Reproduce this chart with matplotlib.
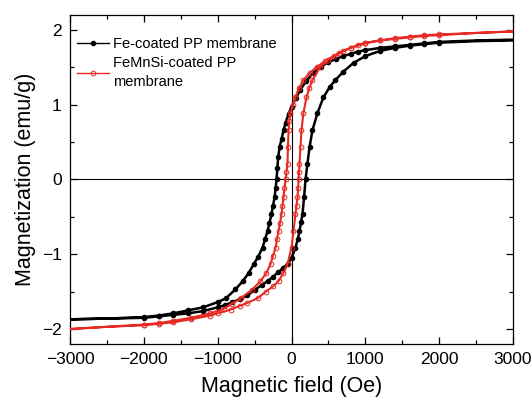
import matplotlib
matplotlib.use("Agg")
import matplotlib.pyplot as plt
from matplotlib.ticker import MultipleLocator
import numpy as np

plt.rcParams['font.family'] = ['Liberation Sans', 'DejaVu Sans']

# Fe-coated PP membrane: descending branch (+3000 -> -3000) then ascending branch
fe_desc_H = [3000, 2500, 2000, 1800, 1600, 1400, 1200, 1000, 900, 800, 700, 600,
             500, 400, 300, 200, 120, 60, 0, -40, -80, -108, -135, -162, -180,
             -192, -203, -215, -230, -250, -271, -298, -325, -358, -392, -450,
             -510, -580, -660, -760, -890, -1000, -1200, -1400, -1600, -1800,
             -2000, -2500, -3000]
fe_desc_M = [1.87, 1.86, 1.84, 1.82, 1.80, 1.78, 1.76, 1.73, 1.71, 1.68, 1.65, 1.61,
             1.57, 1.51, 1.43, 1.32, 1.20, 1.09, 0.97, 0.88, 0.76, 0.66, 0.54, 0.43, 0.30,
             0.15, 0.0, -0.12, -0.24, -0.35, -0.46, -0.58, -0.69, -0.80, -0.91, -1.03,
             -1.13, -1.25, -1.36, -1.47, -1.59, -1.64, -1.71, -1.75, -1.79, -1.82,
             -1.84, -1.86, -1.87]
fe_asc_H = [-3000, -2500, -2000, -1800, -1600, -1400, -1200, -1000, -900, -800,
            -700, -600, -500, -400, -325, -250, -180, -120, -54, 0, 54, 85, 108,
            130, 149, 170, 190, 216, 244, 284, 352, 433, 520, 595, 700, 840, 1000,
            1200, 1400, 1600, 1800, 2000, 2500, 3000]
fe_asc_M = [-1.87, -1.86, -1.85, -1.83, -1.81, -1.79, -1.76, -1.71, -1.68, -1.64,
            -1.60, -1.55, -1.48, -1.41, -1.36, -1.30, -1.24, -1.19, -1.13, -1.05,
            -0.91, -0.80, -0.69, -0.57, -0.46, -0.24, 0.0, 0.21, 0.43, 0.66, 0.89,
            1.10, 1.24, 1.33, 1.44, 1.56, 1.65, 1.72, 1.76, 1.79, 1.81, 1.83, 1.85, 1.86]

# FeMnSi-coated PP membrane
femnsi_desc_H = [3000, 2500, 2000, 1800, 1600, 1400, 1200, 1000, 900, 800, 700,
                 570, 450, 350, 250, 162, 100, 54, 20, -14, -30, -40, -48, -54,
                 -68, -81, -95, -108, -122, -135, -155, -176, -196, -216, -250,
                 -284, -340, -420, -540, -690, -800, -920, -1100, -1367, -1600,
                 -1800, -2000, -2500, -3000]
femnsi_desc_M = [1.98, 1.96, 1.94, 1.93, 1.91, 1.89, 1.86, 1.83, 1.80, 1.76, 1.72,
                 1.65, 1.58, 1.51, 1.43, 1.33, 1.22, 1.10, 1.00, 0.89, 0.78, 0.66,
                 0.44, 0.21, 0.10, 0.0, -0.12, -0.24, -0.35, -0.46, -0.58, -0.69,
                 -0.80, -0.91, -1.02, -1.13, -1.25, -1.36, -1.48, -1.59, -1.66,
                 -1.73, -1.79, -1.85, -1.89, -1.92, -1.94, -1.97, -2.00]
femnsi_asc_H = [-3000, -2500, -2000, -1800, -1600, -1367, -1100, -1000, -825,
                -700, -600, -460, -350, -250, -176, -110, -54, 0, 27, 54, 68, 81,
                90, 95, 102, 108, 122, 135, 162, 203, 240, 284, 392, 500, 650, 800,
                1000, 1200, 1400, 1600, 1800, 2000, 2500, 3000]
femnsi_asc_M = [-2.00, -1.97, -1.95, -1.93, -1.91, -1.87, -1.82, -1.79, -1.74,
                -1.69, -1.65, -1.59, -1.50, -1.43, -1.36, -1.25, -1.13, -0.91,
                -0.69, -0.46, -0.35, -0.24, -0.12, 0.0, 0.10, 0.21, 0.44, 0.66,
                0.89, 1.10, 1.22, 1.33, 1.51, 1.60, 1.69, 1.76, 1.82, 1.86, 1.88,
                1.90, 1.92, 1.93, 1.96, 1.98]

fe_H = np.array(fe_desc_H + fe_asc_H)
fe_M = np.array(fe_desc_M + fe_asc_M)
femnsi_H = np.array(femnsi_desc_H + femnsi_asc_H)
femnsi_M = np.array(femnsi_desc_M + femnsi_asc_M)

fig = plt.figure(figsize=(5.32, 4.03), dpi=100)
ax = fig.add_axes([70 / 532, 1 - 344 / 403, (513 - 70) / 532, (344 - 15) / 403])

ax.axhline(0, color='black', lw=0.8, zorder=1)
ax.axvline(0, color='black', lw=0.8, zorder=1)

red = '#e62a24'
ax.plot(fe_H, fe_M, '-', color='black', lw=1.8, marker='o', ms=3.0,
        markevery=list(np.abs(fe_H) <= 2000), label='Fe-coated PP membrane', zorder=3)
ax.plot(femnsi_H, femnsi_M, '-', color=red, lw=1.5, marker='o', ms=3.4,
        mfc='none', mec=red, mew=0.7,
        markevery=list(np.abs(femnsi_H) <= 2000),
        label='FeMnSi-coated PP\nmembrane', zorder=4)

ax.set_xlim(-3000, 3000)
ax.set_ylim(-2.2, 2.2)
ax.xaxis.set_major_locator(MultipleLocator(1000))
ax.xaxis.set_minor_locator(MultipleLocator(500))
ax.yaxis.set_major_locator(MultipleLocator(1))
ax.yaxis.set_minor_locator(MultipleLocator(0.5))
ax.tick_params(which='both', direction='in', top=True, right=True, labelsize=12.5)
ax.tick_params(which='major', length=5, width=0.9, pad=6)
ax.tick_params(which='minor', length=3, width=0.9)
for s in ax.spines.values():
    s.set_linewidth(0.9)

ax.set_xlabel('Magnetic field (Oe)', fontsize=15.5, labelpad=6)
ax.set_ylabel('Magnetization (emu/g)', fontsize=15.5, labelpad=4)

leg = ax.legend(loc='upper left', bbox_to_anchor=(-0.005, 0.96), frameon=False,
                fontsize=10.5, handlelength=2.2, handletextpad=0.3, numpoints=1,
                borderaxespad=0.2, labelspacing=0.35)
for h in leg.legend_handles:
    h.set_linewidth(1.0)
for t in leg.get_texts():
    t.set_linespacing(1.45)

fig.savefig('out.png', dpi=100)
